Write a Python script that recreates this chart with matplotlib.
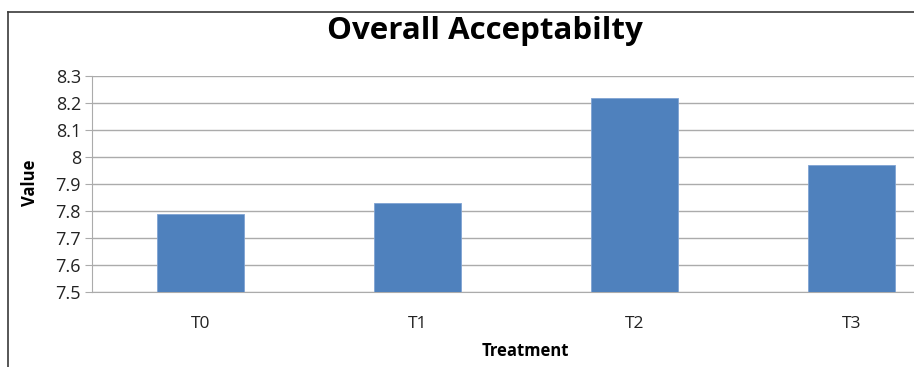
import matplotlib
matplotlib.use("Agg")
import matplotlib.pyplot as plt
from matplotlib.lines import Line2D

categories = ["T0", "T1", "T2", "T3"]
values = [7.79, 7.83, 8.22, 7.97]
y_ticks = [7.5, 7.6, 7.7, 7.8, 7.9, 8.0, 8.1, 8.2, 8.3]
y_tick_labels = ["7.5", "7.6", "7.7", "7.8", "7.9", "8", "8.1", "8.2", "8.3"]

W, H = 914, 367
fig = plt.figure(figsize=(W / 100, H / 100), dpi=100)
fig.patch.set_facecolor("white")

# plot area (extends past the right edge of the canvas)
left, right, top, bottom = 92, 960, 76, 292
ax = fig.add_axes([left / W, (H - bottom) / H, (right - left) / W, (bottom - top) / H])

x = list(range(len(categories)))
ax.bar(x, values, width=0.4, color="#4F81BD", edgecolor="#7FA3D3", linewidth=0.6,
       bottom=0, zorder=3)
ax.set_xlim(-0.5, len(categories) - 0.5)
ax.set_ylim(7.5, 8.3)
ax.set_yticks(y_ticks)
ax.set_yticklabels(y_tick_labels)
ax.set_xticks(x)
ax.set_xticklabels(categories)

ax.yaxis.grid(True, color="#ABABAB", linewidth=1.0, zorder=0)
ax.set_axisbelow(True)
for s in ["top", "right"]:
    ax.spines[s].set_visible(False)
ax.spines["left"].set_color("#ABABAB")
ax.spines["bottom"].set_color("#ABABAB")
ax.tick_params(axis="y", length=5, color="#ABABAB", labelsize=13, labelcolor="#222222", pad=3)
ax.tick_params(axis="x", length=0, labelsize=12.5, labelcolor="#222222", pad=17)

font = "Open Sans"
for lbl in ax.get_xticklabels() + ax.get_yticklabels():
    lbl.set_fontfamily(font)

fig.text(485 / W, 1 - 31 / H, "Overall Acceptabilty", ha="center", va="center",
         fontsize=22.5, fontweight="bold", family="Open Sans", color="black")
fig.text(30 / W, 1 - 183 / H, "Value", ha="center", va="center", rotation=90,
         fontsize=12, fontweight="bold", family="Open Sans", color="black")
fig.text(525 / W, 1 - 351 / H, "Treatment", ha="center", va="center",
         fontsize=12, fontweight="bold", family="Open Sans", color="black")

# chart frame (left and top edges)
fig.add_artist(Line2D([8 / W, 8 / W], [0, 1 - 12 / H], transform=fig.transFigure,
                      color="#3a3a3a", linewidth=1.2))
fig.add_artist(Line2D([8 / W, 1], [1 - 12 / H, 1 - 12 / H], transform=fig.transFigure,
                      color="#3a3a3a", linewidth=1.2))

fig.savefig("out.png", dpi=100)
